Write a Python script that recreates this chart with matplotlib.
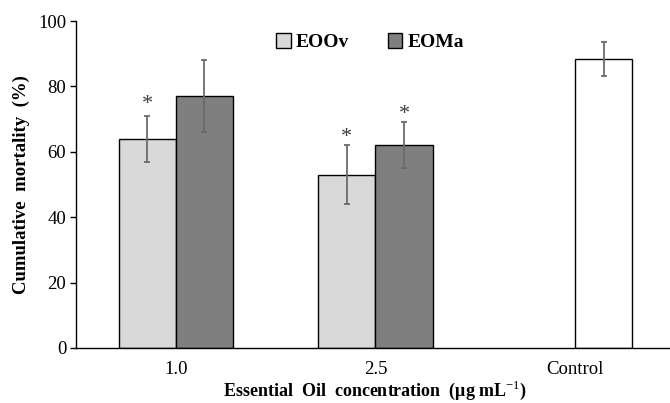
import matplotlib
matplotlib.use("Agg")
import matplotlib.pyplot as plt
import numpy as np

categories = ["1.0", "2.5", "Control"]
eoov_values = [64, 53]
eoov_errors = [7, 9]
eoma_values = [77, 62]
eoma_errors = [11, 7]
control_value = 88.3
control_error = 5.2
# significance stars: (category index, series, y position)
star_marks = [(0, "EOOv", 74.5), (1, "EOOv", 64.5), (1, "EOMa", 71.5)]

plt.rcParams["font.family"] = "Liberation Serif"
plt.rcParams["mathtext.fontset"] = "custom"
plt.rcParams["mathtext.rm"] = "Liberation Serif"
plt.rcParams["mathtext.bf"] = "Liberation Serif:bold"

fig = plt.figure(figsize=(6.7, 4.03), dpi=100)
ax = fig.add_axes([76 / 670, 55 / 403, 599 / 670, 327 / 403])

width = 0.286
x = np.arange(len(categories))
err_kw = dict(ecolor="#6b6b6b", elinewidth=1.3, capsize=2.5, capthick=1.3)

ax.bar(x[:2] - width / 2, eoov_values, width, yerr=eoov_errors, color="#d9d9d9",
       edgecolor="black", linewidth=1.0, label="EOOv", error_kw=err_kw, zorder=2)
ax.bar(x[:2] + width / 2, eoma_values, width, yerr=eoma_errors, color="#7f7f7f",
       edgecolor="black", linewidth=1.0, label="EOMa", error_kw=err_kw, zorder=2)
ax.bar(x[2] + width / 2, control_value, width, yerr=control_error, color="white",
       edgecolor="black", linewidth=1.0, error_kw=err_kw, zorder=2)

for idx, series, ypos in star_marks:
    offset = -width / 2 if series == "EOOv" else width / 2
    ax.text(x[idx] + offset, ypos, "*", ha="center", va="center", fontsize=16,
            color="#404040")

ax.set_xlim(-0.5, 2.5)
ax.set_ylim(0, 100)
ax.set_yticks([0, 20, 40, 60, 80, 100])
ax.set_xticks(x)
ax.set_xticklabels(categories)
ax.tick_params(axis="x", length=0, pad=9, labelsize=13.5)
ax.tick_params(axis="y", length=4, width=1, direction="out", labelsize=13.5, pad=3)
for side in ["top", "right"]:
    ax.spines[side].set_visible(False)
for side in ["left", "bottom"]:
    ax.spines[side].set_linewidth(1.0)

ax.set_ylabel("Cumulative  mortality  (%)", fontsize=13.5, fontweight="bold", labelpad=6)
ax.set_xlabel(r"Essential  Oil  concentration  ($\mathbf{\mu}$g mL$^{-1}$)",
              fontsize=13, fontweight="bold", labelpad=1)

leg = ax.legend(loc="center left", bbox_to_anchor=(0.305, 0.935), ncol=2, frameon=False,
                handlelength=0.75, handleheight=0.75, handletextpad=0.25,
                columnspacing=2.0, prop={"weight": "bold", "size": 14})

fig.savefig("out.png", dpi=100)
